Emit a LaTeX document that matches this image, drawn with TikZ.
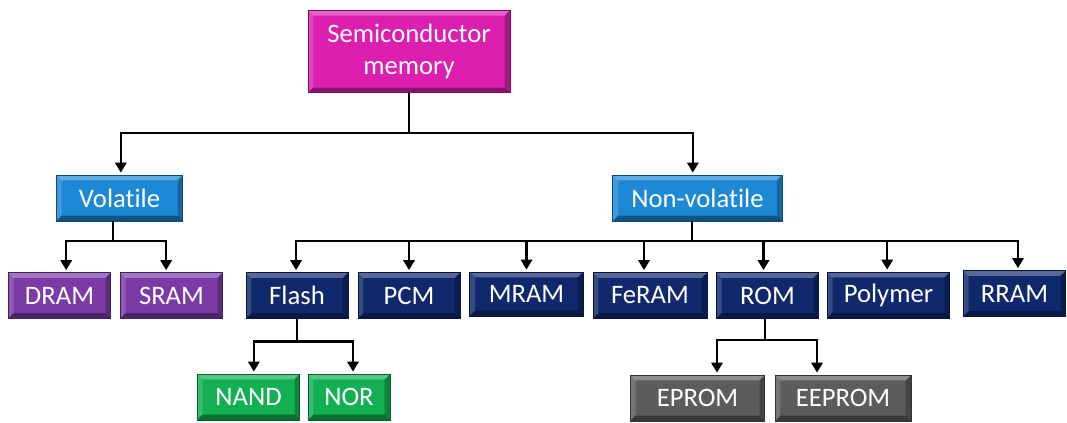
\documentclass[tikz,border=0pt]{standalone}
\usepackage{fontspec}
\setmainfont[Ligatures=NoCommon]{Carlito}
\usetikzlibrary{arrows.meta}

\definecolor{cMag}{RGB}{220,31,174}
\definecolor{cBlue}{RGB}{28,136,214}
\definecolor{cPurple}{RGB}{122,59,166}
\definecolor{cNavy}{RGB}{16,40,108}
\definecolor{cGreen}{RGB}{18,176,82}
\definecolor{cGray}{RGB}{92,92,92}

\tikzset{
  bevelbox/.style={rectangle, draw=#1!55!black, line width=0.6pt, fill=#1,
    text=white, inner sep=0pt, align=center,
    font=\fontsize{20}{24.5}\selectfont,
    path picture={
      \def\bb{path picture bounding box}
      \fill[white,opacity=0.30] (\bb.north west) -- (\bb.north east)
        -- ([xshift=-4pt,yshift=-4pt]\bb.north east) -- ([xshift=4pt,yshift=-4pt]\bb.north west) -- cycle;
      \fill[white,opacity=0.16] (\bb.north west) -- ([xshift=4pt,yshift=-4pt]\bb.north west)
        -- ([xshift=4pt,yshift=4pt]\bb.south west) -- (\bb.south west) -- cycle;
      \fill[black,opacity=0.25] (\bb.north east) -- (\bb.south east)
        -- ([xshift=-4pt,yshift=4pt]\bb.south east) -- ([xshift=-4pt,yshift=-4pt]\bb.north east) -- cycle;
      \fill[black,opacity=0.38] (\bb.south west) -- (\bb.south east)
        -- ([xshift=-4pt,yshift=4pt]\bb.south east) -- ([xshift=4pt,yshift=4pt]\bb.south west) -- cycle;
    }},
  wire/.style={line width=1.7pt, black},
  arr/.style={wire, -{Triangle[width=8.5pt,length=7.5pt]}, shorten >=1.5pt},
}

\begin{document}
\begin{tikzpicture}[x=0.75pt,y=-0.75pt]
\useasboundingbox (0,0) rectangle (1067,422);

% root
\node[bevelbox=cMag, minimum width=151.5pt, minimum height=62pt] (sm) at (409,51.5) {Semiconductor\\memory};

% second level
\node[bevelbox=cBlue, minimum width=95pt, minimum height=34.5pt] (vol) at (119.5,198) {Volatile};
\node[bevelbox=cBlue, minimum width=127pt, minimum height=34.5pt] (nv) at (697.5,198) {Non-volatile};

% third level
\node[bevelbox=cPurple, minimum width=77pt, minimum height=34.5pt] (dram) at (59.5,295.5) {DRAM};
\node[bevelbox=cPurple, minimum width=77pt, minimum height=34.5pt] (sram) at (171.5,295.5) {SRAM};
\node[bevelbox=cNavy, minimum width=76.5pt, minimum height=34.5pt] (flash) at (297,295.5) {Flash};
\node[bevelbox=cNavy, minimum width=76.5pt, minimum height=34.5pt] (pcm) at (409,295.5) {PCM};
\node[bevelbox=cNavy, minimum width=85pt, minimum height=33pt] (mram) at (526.5,294) {MRAM};
\node[bevelbox=cNavy, minimum width=85.5pt, minimum height=34.5pt] (feram) at (650,295.5) {FeRAM};
\node[bevelbox=cNavy, minimum width=77pt, minimum height=34.5pt] (rom) at (767.5,295.5) {ROM};
\node[bevelbox=cNavy, minimum width=92pt, minimum height=34.5pt] (poly) at (888.5,295) {Polymer};
\node[bevelbox=cNavy, minimum width=77pt, minimum height=34.5pt] (rram) at (1014.5,293.5) {RRAM};

% fourth level
\node[bevelbox=cGreen, minimum width=77pt, minimum height=34.5pt] (nand) at (248.5,397) {NAND};
\node[bevelbox=cGreen, minimum width=61.5pt, minimum height=34.5pt] (nor) at (349,397) {NOR};
\node[bevelbox=cGray, minimum width=101pt, minimum height=34.5pt] (eprom) at (697.5,398) {EPROM};
\node[bevelbox=cGray, minimum width=102pt, minimum height=34.5pt] (eeprom) at (843,398) {EEPROM};

% root to volatile / non-volatile
\draw[wire] (sm.south) -- ++(0,40);
\draw[arr] ([yshift=-30pt]sm.south) -| ([xshift=1pt]vol.north);
\draw[arr] ([yshift=-30pt]sm.south) -| ([xshift=-3.5pt]nv.north);

% volatile branch
\draw[wire] ([xshift=-5pt]vol.south) -- ++(0,-14.5pt);
\draw[arr] ([xshift=-5pt,yshift=-14.5pt]vol.south) -| ([xshift=5pt]dram.north);
\draw[arr] ([xshift=-5pt,yshift=-14.5pt]vol.south) -| ([xshift=-4pt]sram.north);

% non-volatile branch
\draw[wire] ([xshift=-4pt]nv.south) -- ++(0,-14.5pt);
\draw[arr] ([xshift=-4pt,yshift=-14.5pt]nv.south) -| ([xshift=-0.7pt]flash.north);
\draw[arr] ([xshift=-4pt,yshift=-14.5pt]nv.south) -| (pcm.north);
\draw[arr] ([xshift=-4pt,yshift=-14.5pt]nv.south) -| (mram.north);
\draw[arr] ([xshift=-4pt,yshift=-14.5pt]nv.south) -| ([xshift=-4.5pt]feram.north);
\draw[arr] ([xshift=-4pt,yshift=-14.5pt]nv.south) -| ([xshift=-3pt]rom.north);
\draw[arr] ([xshift=-4pt,yshift=-14.5pt]nv.south) -| ([xshift=-1pt]poly.north);
\draw[arr] ([xshift=-4pt,yshift=-14.5pt]nv.south) -| ([xshift=2.6pt]rram.north);

% flash branch
\draw[wire] (flash.south) -- ++(0,-17pt);
\draw[arr] ([yshift=-17pt]flash.south) -| ([xshift=4pt]nand.north);
\draw[arr] ([yshift=-17pt]flash.south) -| ([xshift=3pt]nor.north);

% ROM branch
\draw[wire] ([xshift=-2pt]rom.south) -- ++(0,-16pt);
\draw[arr] ([xshift=-2pt,yshift=-16pt]rom.south) -| ([xshift=14.6pt]eprom.north);
\draw[arr] ([xshift=-2pt,yshift=-16pt]rom.south) -| ([xshift=-19.5pt]eeprom.north);
\end{tikzpicture}
\end{document}
